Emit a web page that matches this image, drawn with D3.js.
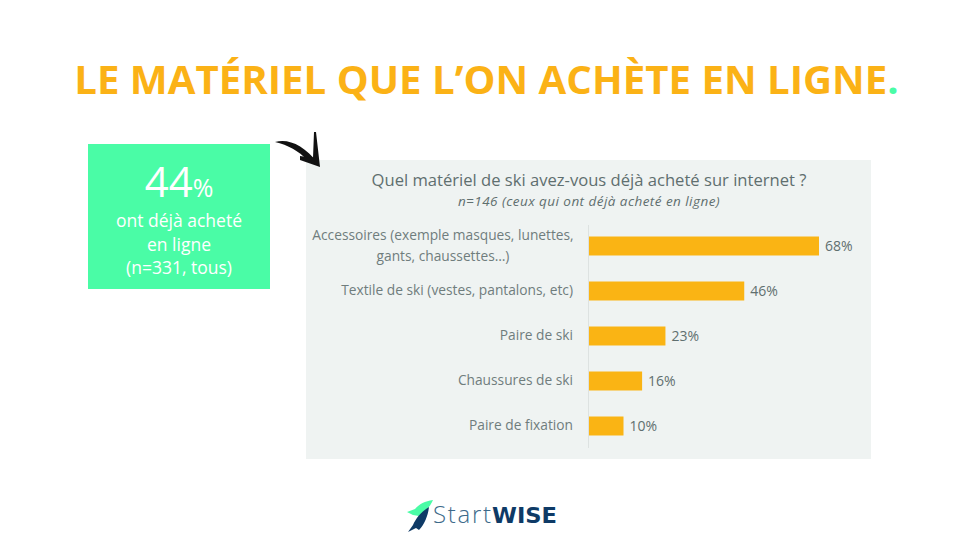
<!DOCTYPE html>
<html>
<head>
<meta charset="utf-8">
<title>Le matériel que l'on achète en ligne</title>
<script src="https://cdn.jsdelivr.net/npm/d3@7"></script>
<style>
  html, body { margin: 0; padding: 0; background: #fff; }
  svg { display: block; }
  text { font-family: "Open Sans", sans-serif; }
</style>
</head>
<body>
<div id="chart"></div>
<script>
var categories = ["Accessoires", "Textile", "Paire de ski", "Chaussures", "Fixation"];
var labelLines = [
  ["Accessoires (exemple masques, lunettes,", "gants, chaussettes…)"],
  ["Textile de ski (vestes, pantalons, etc)"],
  ["Paire de ski"],
  ["Chaussures de ski"],
  ["Paire de fixation"]
];
// bar lengths, the labels show them rounded
var values = [68, 45.9, 22.6, 15.7, 10.2];

var svg = d3.select("#chart").append("svg").attr("width", 960).attr("height", 540);

// title
var title = svg.append("text")
  .attr("x", 486.5).attr("y", 94)
  .attr("text-anchor", "middle")
  .attr("font-size", 40.2).attr("font-weight", 700)
  .attr("fill", "#fbb216");
title.append("tspan").text("LE MATÉRIEL QUE L’ON ACHÈTE EN LIGNE");
title.append("tspan").attr("fill", "#4afca6").text(".");

// green box
svg.append("rect").attr("x", 88).attr("y", 144).attr("width", 182).attr("height", 145).attr("fill", "#4afca6");
var big = svg.append("text").attr("x", 179).attr("y", 197).attr("text-anchor", "middle").attr("fill", "#fff");
big.append("tspan").attr("font-size", 42).text("44");
big.append("tspan").attr("font-size", 25).text("%");
svg.selectAll(".boxline").data(["ont déjà acheté", "en ligne", "(n=331, tous)"]).enter().append("text")
  .attr("class", "boxline")
  .attr("x", 179)
  .attr("y", function(d, i) { return 227 + i * 23.5; })
  .attr("text-anchor", "middle").attr("font-size", 17.5).attr("fill", "#fff")
  .text(function(d) { return d; });

// panel
svg.append("rect").attr("x", 306).attr("y", 160).attr("width", 565).attr("height", 299).attr("fill", "#eff3f2");
svg.append("text").attr("x", 589).attr("y", 186).attr("text-anchor", "middle")
  .attr("font-size", 16.6).attr("fill", "#5f6f6f")
  .text("Quel matériel de ski avez-vous déjà acheté sur internet ?");
svg.append("text").attr("x", 589).attr("y", 206).attr("text-anchor", "middle")
  .attr("font-size", 13.5).attr("font-style", "italic").attr("letter-spacing", 0.45).attr("fill", "#5f6f6f")
  .text("n=146 (ceux qui ont déjà acheté en ligne)");

// bars
var x = d3.scaleLinear().domain([0, 68]).range([589, 819]);
var y = d3.scaleBand().domain(categories).range([223.5, 448.5]).paddingInner(0.578).paddingOuter(0.289);

svg.append("line").attr("x1", 588.5).attr("x2", 588.5).attr("y1", 225).attr("y2", 448)
  .attr("stroke", "#dde2e1").attr("stroke-width", 1);

svg.selectAll(".bar").data(values).enter().append("rect")
  .attr("class", "bar")
  .attr("x", x(0))
  .attr("y", function(d, i) { return y(categories[i]); })
  .attr("width", function(d) { return x(d) - x(0); })
  .attr("height", y.bandwidth())
  .attr("fill", "#fab414");

svg.selectAll(".val").data(values).enter().append("text")
  .attr("class", "val")
  .attr("x", function(d) { return x(d) + 6; })
  .attr("y", function(d, i) { return y(categories[i]) + y.bandwidth() / 2 + 5; })
  .attr("font-size", 14).attr("fill", "#5f6f6f")
  .text(function(d) { return d3.format(".0f")(d) + "%"; });

// the first label wraps, its second line sits centred under the first
labelLines.forEach(function(lines, i) {
  var cy = y(categories[i]) + y.bandwidth() / 2;
  lines.forEach(function(t, j) {
    svg.append("text")
      .attr("x", lines.length > 1 ? 443 : 573)
      .attr("y", cy + 4 + (j - (lines.length - 1) / 2) * 21)
      .attr("text-anchor", lines.length > 1 ? "middle" : "end")
      .attr("font-size", 13.75).attr("fill", "#6f7d7d")
      .text(t);
  });
});

// hand drawn arrow
svg.append("path")
  .attr("d", "M275 142 C288 138 304 145 318 163 L307 160 C299 151 288 145 275 142Z")
  .attr("fill", "#111");
svg.append("path")
  .attr("d", "M314 132 L316 132 L320 167 L300 160 L300 156 L313 158Z")
  .attr("fill", "#111");

// logo
var logo = svg.append("g");
logo.append("path").attr("d", "M433 500 C425 501 419 504 415 509 L407 512 L413 515 L419 516 C425 512 430 507 433 500Z").attr("fill", "#4afca6");
logo.append("path").attr("d", "M429 507 C422 511 416 518 413 525 L408 532 L416 528 L419 530 C425 524 428 515 429 507Z").attr("fill", "#0e3a66");
logo.append("text").attr("x", 433).attr("y", 523)
  .attr("font-size", 24).attr("font-weight", 300).attr("fill", "#3d6a8a")
  .attr("textLength", 58).attr("lengthAdjust", "spacing").text("Start");
logo.append("text").attr("x", 492).attr("y", 523)
  .attr("font-size", 22).attr("font-weight", 700).attr("fill", "#0e3a66")
  .style("font-family", "'DejaVu Sans', sans-serif")
  .attr("textLength", 65).attr("lengthAdjust", "spacingAndGlyphs").text("WISE");
</script>
</body>
</html>
